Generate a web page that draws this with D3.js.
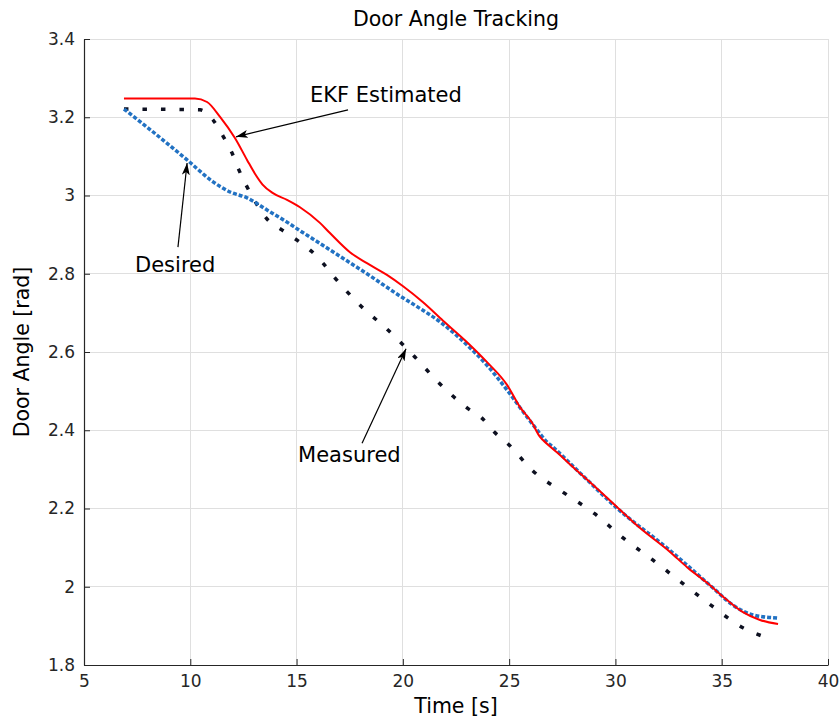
<!DOCTYPE html>
<html>
<head>
<meta charset="utf-8">
<script src="https://cdn.jsdelivr.net/npm/d3@7"></script>
<style>
  html, body { margin: 0; padding: 0; background: #fff; }
  svg { display: block; }
</style>
</head>
<body>
<svg id="chart" width="840" height="722"></svg>
<script>
// ---------- data ----------
const xTicks = [5, 10, 15, 20, 25, 30, 35, 40];
const yTicks = [1.8, 2, 2.2, 2.4, 2.6, 2.8, 3, 3.2, 3.4];

// EKF Estimated (red, solid)
const ekfT = [6.88, 10.22, 10.79, 11.40, 12.10, 12.67, 13.05, 13.40, 13.89, 14.55, 15.16, 16.10, 16.57, 17.51, 18.31, 19.25, 20.01, 20.95, 21.89, 23.02, 23.96, 24.90, 25.51, 26.08, 26.45, 26.59, 27.39, 28.00, 28.95, 30.07, 31.16, 32.57, 33.37, 34.31, 35.25, 36.00, 36.80, 37.65];
const ekfV = [3.248, 3.248, 3.239, 3.201, 3.147, 3.091, 3.055, 3.028, 3.006, 2.989, 2.970, 2.930, 2.904, 2.855, 2.827, 2.797, 2.768, 2.727, 2.680, 2.625, 2.574, 2.516, 2.459, 2.419, 2.383, 2.375, 2.337, 2.306, 2.260, 2.204, 2.150, 2.089, 2.050, 2.010, 1.966, 1.935, 1.915, 1.905];

// Desired (blue, dashed)
const desT = [6.88, 7.96, 9.85, 11.07, 11.87, 12.67, 13.61, 14.55, 15.16, 15.77, 16.71, 17.37, 18.31, 19.87, 20.67, 21.75, 23.02, 23.96, 24.90, 25.84, 26.31, 26.78, 27.06, 28.33, 30.07, 32.43, 34.59, 35.53, 36.47, 37.65];
const desV = [3.221, 3.175, 3.091, 3.035, 3.009, 2.994, 2.963, 2.932, 2.910, 2.889, 2.856, 2.833, 2.800, 2.743, 2.716, 2.677, 2.618, 2.566, 2.503, 2.434, 2.401, 2.370, 2.357, 2.291, 2.201, 2.099, 1.997, 1.953, 1.928, 1.920];

// Measured (black, dotted)
const meaT = [6.88, 10.46, 11.07, 11.54, 11.96, 12.29, 12.67, 13.09, 13.61, 14.31, 15.02, 15.73, 16.24, 16.81, 17.98, 19.30, 20.52, 21.70, 23.02, 23.72, 24.29, 24.95, 26.12, 27.58, 29.04, 30.36, 31.77, 33.13, 34.54, 36.00, 36.90];
const meaV = [3.221, 3.219, 3.193, 3.152, 3.109, 3.065, 3.022, 2.981, 2.940, 2.912, 2.886, 2.856, 2.827, 2.789, 2.720, 2.656, 2.590, 2.521, 2.457, 2.431, 2.396, 2.365, 2.296, 2.240, 2.186, 2.125, 2.068, 2.010, 1.951, 1.895, 1.874];

// annotations: label, text anchor (data), arrow start (data), arrow tip (data)
const annLabels = ["EKF Estimated", "Desired", "Measured"];
const annText = [[15.63, 3.239], [7.40, 2.805], [15.07, 2.319]];
const annFrom = [[17.42, 3.219], [9.42, 2.868], [18.08, 2.367]];
const annTo   = [[12.15, 3.150], [9.85, 3.083], [20.15, 2.608]];

// ---------- layout ----------
const svg = d3.select("#chart");
const m = { left: 84, right: 828, top: 39, bottom: 665 };
const x = d3.scaleLinear().domain([5, 40]).range([m.left, m.right]);
const y = d3.scaleLinear().domain([1.8, 3.4]).range([m.bottom, m.top]);

const axisColor = "#262626";
const gridColor = "#dfdfdf";
const font = "'DejaVu Sans', sans-serif";

// grid
const grid = svg.append("g");
grid.selectAll("line.gx").data(xTicks).enter().append("line")
  .attr("x1", d => x(d)).attr("x2", d => x(d))
  .attr("y1", m.top).attr("y2", m.bottom)
  .attr("stroke", gridColor).attr("stroke-width", 1).attr("shape-rendering", "crispEdges");
grid.selectAll("line.gy").data(yTicks).enter().append("line")
  .attr("y1", d => y(d)).attr("y2", d => y(d))
  .attr("x1", m.left).attr("x2", m.right)
  .attr("stroke", gridColor).attr("stroke-width", 1).attr("shape-rendering", "crispEdges");

// axes
const xAxis = d3.axisBottom(x).tickValues(xTicks).tickSizeInner(-6).tickSizeOuter(0).tickPadding(10).tickFormat(d3.format("d"));
const yAxis = d3.axisLeft(y).tickValues(yTicks).tickSizeInner(-6).tickSizeOuter(0).tickPadding(9).tickFormat(d => String(+d.toFixed(1)));

const gx = svg.append("g").attr("transform", `translate(0,${m.bottom})`).call(xAxis);
const gy = svg.append("g").attr("transform", `translate(${m.left},0)`).call(yAxis);
[gx, gy].forEach(g => {
  g.select(".domain").attr("stroke", axisColor).attr("stroke-width", 1.2);
  g.selectAll(".tick line").attr("stroke", axisColor).attr("stroke-width", 1);
  g.selectAll(".tick text").attr("fill", axisColor).style("font-family", font).style("font-size", "17px");
});

// lines
const line = d3.line().x(d => x(d[0])).y(d => y(d[1])).curve(d3.curveMonotoneX);
const zip = (a, b) => a.map((v, i) => [v, b[i]]);

svg.append("path").datum(zip(meaT, meaV))
  .attr("d", line).attr("fill", "none")
  .attr("stroke", "#0d1020").attr("stroke-width", 3.5)
  .attr("stroke-dasharray", "4.5,14");

svg.append("path").datum(zip(desT, desV))
  .attr("d", line).attr("fill", "none")
  .attr("stroke", "#2272c3").attr("stroke-width", 3.5)
  .attr("stroke-dasharray", "4,2");

svg.append("path").datum(zip(ekfT, ekfV))
  .attr("d", line).attr("fill", "none")
  .attr("stroke", "#ff0000").attr("stroke-width", 2);

// title and labels
svg.append("text").attr("x", (m.left + m.right) / 2).attr("y", 26)
  .attr("text-anchor", "middle").style("font-family", font).style("font-size", "20.5px")
  .attr("fill", "#000").text("Door Angle Tracking");

svg.append("text").attr("x", (m.left + m.right) / 2).attr("y", 713)
  .attr("text-anchor", "middle").style("font-family", font).style("font-size", "20.5px")
  .attr("fill", "#000").text("Time [s]");

svg.append("text").attr("transform", `translate(29,${(m.top + m.bottom) / 2}) rotate(-90)`)
  .attr("text-anchor", "middle").style("font-family", font).style("font-size", "20.5px")
  .attr("fill", "#000").text("Door Angle [rad]");

// annotations
const defs = svg.append("defs");
defs.append("marker").attr("id", "arrow").attr("viewBox", "0 0 12 8")
  .attr("refX", 12).attr("refY", 4).attr("markerWidth", 12).attr("markerHeight", 8)
  .attr("markerUnits", "userSpaceOnUse").attr("orient", "auto")
  .append("path").attr("d", "M0,0 L12,4 L0,8 L3,4 Z").attr("fill", "#000");

annLabels.forEach((lab, i) => {
  svg.append("line")
    .attr("x1", x(annFrom[i][0])).attr("y1", y(annFrom[i][1]))
    .attr("x2", x(annTo[i][0])).attr("y2", y(annTo[i][1]))
    .attr("stroke", "#000").attr("stroke-width", 1.2)
    .attr("marker-end", "url(#arrow)");
  svg.append("text").attr("x", x(annText[i][0])).attr("y", y(annText[i][1]))
    .style("font-family", font).style("font-size", "21px").attr("fill", "#000").text(lab);
});
</script>
</body>
</html>
